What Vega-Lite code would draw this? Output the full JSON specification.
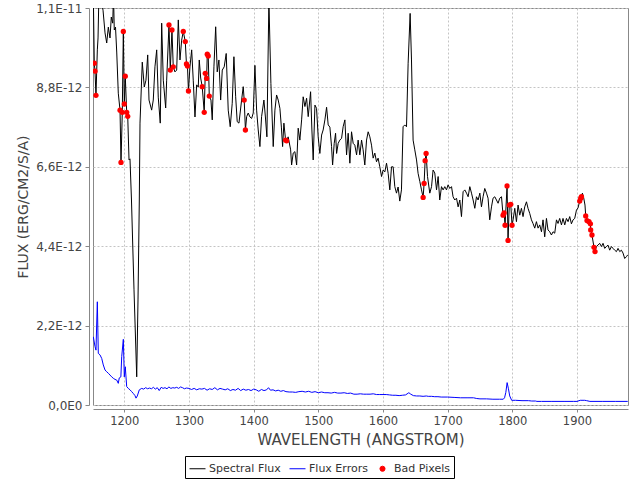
{
  "$schema": "https://vega.github.io/schema/vega-lite/v6.json",
  "width": 535,
  "height": 397,
  "autosize": {"type": "none"},
  "padding": {"left": 93, "top": 8, "right": 12, "bottom": 75},
  "background": "white",
  "config": {
    "view": {"stroke": "#888888", "strokeWidth": 1},
    "font": "DejaVu Sans"
  },
  "datasets": {
    "flux": [
      {"wl":1152.1,"flux":11.36e-12,"bad":0},{"wl":1153.6,"flux":9.47e-12,"bad":1},{"wl":1154.7,"flux":9.25e-12,"bad":1},{"wl":1156.2,"flux":8.58e-12,"bad":1},
      {"wl":1158.3,"flux":9.84e-12,"bad":0},{"wl":1159.4,"flux":10.17e-12,"bad":0},{"wl":1160.9,"flux":11.5e-12,"bad":0},{"wl":1164.0,"flux":11.22e-12,"bad":0},
      {"wl":1167.1,"flux":10.94e-12,"bad":0},{"wl":1170.2,"flux":10.31e-12,"bad":0},{"wl":1172.8,"flux":10.03e-12,"bad":0},{"wl":1175.3,"flux":10.47e-12,"bad":0},
      {"wl":1177.9,"flux":10.17e-12,"bad":0},{"wl":1179.9,"flux":10.75e-12,"bad":0},{"wl":1182.1,"flux":10.58e-12,"bad":0},{"wl":1183.3,"flux":11.36e-12,"bad":0},
      {"wl":1184.5,"flux":10.39e-12,"bad":0},{"wl":1186.4,"flux":10.47e-12,"bad":0},{"wl":1188.3,"flux":9.78e-12,"bad":0},{"wl":1190.7,"flux":8.64e-12,"bad":0},
      {"wl":1193.4,"flux":8.17e-12,"bad":1},{"wl":1194.9,"flux":6.72e-12,"bad":1},{"wl":1196.9,"flux":8.11e-12,"bad":1},{"wl":1198.5,"flux":10.35e-12,"bad":1},
      {"wl":1200.0,"flux":8.34e-12,"bad":1},{"wl":1201.5,"flux":9.11e-12,"bad":1},{"wl":1203.7,"flux":8.11e-12,"bad":1},{"wl":1205.3,"flux":8.0e-12,"bad":1},
      {"wl":1207.3,"flux":6.79e-12,"bad":0},{"wl":1208.8,"flux":6.82e-12,"bad":0},{"wl":1211.1,"flux":5.68e-12,"bad":0},{"wl":1215.0,"flux":3.19e-12,"bad":0},
      {"wl":1219.2,"flux":0.78e-12,"bad":0},{"wl":1221.2,"flux":2.91e-12,"bad":0},{"wl":1223.2,"flux":5.68e-12,"bad":0},{"wl":1224.3,"flux":7.81e-12,"bad":0},
      {"wl":1227.8,"flux":9.50e-12,"bad":0},{"wl":1230.9,"flux":8.81e-12,"bad":0},{"wl":1233.5,"flux":9.0e-12,"bad":0},{"wl":1236.2,"flux":9.70e-12,"bad":0},
      {"wl":1238.2,"flux":8.45e-12,"bad":0},{"wl":1242.3,"flux":8.17e-12,"bad":0},{"wl":1244.8,"flux":8.45e-12,"bad":0},{"wl":1247.4,"flux":9.37e-12,"bad":0},
      {"wl":1250.1,"flux":9.84e-12,"bad":0},{"wl":1252.5,"flux":8.53e-12,"bad":0},{"wl":1255.6,"flux":7.81e-12,"bad":0},{"wl":1257.8,"flux":10.58e-12,"bad":0},
      {"wl":1260.3,"flux":9.0e-12,"bad":0},{"wl":1264.0,"flux":8.23e-12,"bad":0},{"wl":1265.5,"flux":9.0e-12,"bad":0},{"wl":1269.1,"flux":10.53e-12,"bad":1},
      {"wl":1271.1,"flux":9.28e-12,"bad":1},{"wl":1273.7,"flux":10.39e-12,"bad":1},{"wl":1275.7,"flux":9.37e-12,"bad":1},{"wl":1278.3,"flux":9.23e-12,"bad":0},
      {"wl":1281.0,"flux":9.28e-12,"bad":0},{"wl":1283.5,"flux":10.67e-12,"bad":0},{"wl":1286.1,"flux":9.56e-12,"bad":0},{"wl":1288.7,"flux":10.11e-12,"bad":0},
      {"wl":1291.2,"flux":10.35e-12,"bad":1},{"wl":1294.3,"flux":10.07e-12,"bad":1},{"wl":1296.1,"flux":9.45e-12,"bad":1},{"wl":1297.7,"flux":9.39e-12,"bad":1},
      {"wl":1299.2,"flux":8.70e-12,"bad":1},{"wl":1301.5,"flux":9.37e-12,"bad":0},{"wl":1304.2,"flux":9.84e-12,"bad":0},{"wl":1306.6,"flux":9.0e-12,"bad":0},
      {"wl":1309.3,"flux":7.98e-12,"bad":0},{"wl":1311.9,"flux":8.87e-12,"bad":0},{"wl":1314.4,"flux":8.81e-12,"bad":0},{"wl":1315.9,"flux":9.56e-12,"bad":0},
      {"wl":1318.1,"flux":9.06e-12,"bad":0},{"wl":1320.5,"flux":8.82e-12,"bad":1},{"wl":1323.6,"flux":8.11e-12,"bad":1},{"wl":1325.2,"flux":9.19e-12,"bad":1},
      {"wl":1327.3,"flux":9.05e-12,"bad":1},{"wl":1328.3,"flux":9.72e-12,"bad":1},{"wl":1329.8,"flux":9.67e-12,"bad":1},{"wl":1331.4,"flux":8.56e-12,"bad":1},
      {"wl":1334.0,"flux":8.45e-12,"bad":0},{"wl":1336.0,"flux":7.90e-12,"bad":0},{"wl":1338.6,"flux":9.37e-12,"bad":0},{"wl":1341.3,"flux":10.48e-12,"bad":0},
      {"wl":1343.7,"flux":9.23e-12,"bad":0},{"wl":1346.3,"flux":9.56e-12,"bad":0},{"wl":1349.0,"flux":8.45e-12,"bad":0},{"wl":1351.5,"flux":9.28e-12,"bad":0},
      {"wl":1354.5,"flux":9.37e-12,"bad":0},{"wl":1357.6,"flux":9.74e-12,"bad":0},{"wl":1360.7,"flux":8.17e-12,"bad":0},{"wl":1363.8,"flux":7.71e-12,"bad":0},
      {"wl":1366.9,"flux":8.36e-12,"bad":0},{"wl":1369.5,"flux":9.65e-12,"bad":0},{"wl":1372.2,"flux":8.54e-12,"bad":0},{"wl":1374.6,"flux":7.85e-12,"bad":0},
      {"wl":1377.3,"flux":7.81e-12,"bad":0},{"wl":1381.4,"flux":8.45e-12,"bad":0},{"wl":1383.9,"flux":8.82e-12,"bad":0},{"wl":1385.4,"flux":8.45e-12,"bad":1},
      {"wl":1387.3,"flux":7.62e-12,"bad":1},{"wl":1389.2,"flux":7.99e-12,"bad":0},{"wl":1391.6,"flux":8.09e-12,"bad":0},{"wl":1394.3,"flux":7.98e-12,"bad":0},
      {"wl":1396.9,"flux":7.94e-12,"bad":0},{"wl":1399.4,"flux":8.09e-12,"bad":0},{"wl":1402.0,"flux":9.41e-12,"bad":0},{"wl":1404.6,"flux":8.17e-12,"bad":0},
      {"wl":1407.1,"flux":7.62e-12,"bad":0},{"wl":1409.7,"flux":7.16e-12,"bad":0},{"wl":1412.3,"flux":7.99e-12,"bad":0},{"wl":1415.9,"flux":8.45e-12,"bad":0},
      {"wl":1418.2,"flux":7.98e-12,"bad":0},{"wl":1420.5,"flux":7.43e-12,"bad":0},{"wl":1423.6,"flux":11.2e-12,"bad":0},{"wl":1426.7,"flux":8.91e-12,"bad":0},
      {"wl":1430.3,"flux":7.16e-12,"bad":0},{"wl":1432.9,"flux":8.17e-12,"bad":0},{"wl":1435.5,"flux":8.59e-12,"bad":0},{"wl":1438.0,"flux":8.45e-12,"bad":0},
      {"wl":1440.6,"flux":8.22e-12,"bad":0},{"wl":1442.9,"flux":7.70e-12,"bad":0},{"wl":1444.8,"flux":7.16e-12,"bad":0},{"wl":1446.8,"flux":7.81e-12,"bad":0},
      {"wl":1449.4,"flux":7.34e-12,"bad":1},{"wl":1451.0,"flux":7.32e-12,"bad":1},{"wl":1453.4,"flux":7.43e-12,"bad":0},{"wl":1457.2,"flux":7.07e-12,"bad":0},
      {"wl":1458.7,"flux":6.65e-12,"bad":0},{"wl":1461.2,"flux":6.98e-12,"bad":0},{"wl":1463.8,"flux":7.02e-12,"bad":0},{"wl":1466.5,"flux":6.65e-12,"bad":0},
      {"wl":1468.9,"flux":7.67e-12,"bad":0},{"wl":1471.5,"flux":7.34e-12,"bad":0},{"wl":1474.2,"flux":7.90e-12,"bad":0},{"wl":1476.6,"flux":8.54e-12,"bad":0},
      {"wl":1479.3,"flux":8.27e-12,"bad":0},{"wl":1481.9,"flux":8.50e-12,"bad":0},{"wl":1484.4,"flux":7.99e-12,"bad":0},{"wl":1488.1,"flux":8.68e-12,"bad":0},
      {"wl":1490.1,"flux":7.62e-12,"bad":0},{"wl":1492.1,"flux":6.79e-12,"bad":0},{"wl":1494.8,"flux":8.31e-12,"bad":0},{"wl":1497.3,"flux":8.22e-12,"bad":0},
      {"wl":1499.8,"flux":7.43e-12,"bad":0},{"wl":1502.4,"flux":6.97e-12,"bad":0},{"wl":1505.1,"flux":7.48e-12,"bad":0},{"wl":1507.5,"flux":7.62e-12,"bad":0},
      {"wl":1510.2,"flux":7.90e-12,"bad":0},{"wl":1512.8,"flux":8.25e-12,"bad":0},{"wl":1515.3,"flux":7.76e-12,"bad":0},{"wl":1517.9,"flux":7.70e-12,"bad":0},
      {"wl":1520.5,"flux":7.16e-12,"bad":0},{"wl":1522.1,"flux":6.65e-12,"bad":0},{"wl":1524.6,"flux":7.25e-12,"bad":0},{"wl":1526.7,"flux":7.53e-12,"bad":0},
      {"wl":1528.3,"flux":6.97e-12,"bad":0},{"wl":1530.7,"flux":7.25e-12,"bad":0},{"wl":1533.3,"flux":7.34e-12,"bad":0},{"wl":1536.0,"flux":7.39e-12,"bad":0},
      {"wl":1538.4,"flux":7.71e-12,"bad":0},{"wl":1541.1,"flux":7.90e-12,"bad":0},{"wl":1543.7,"flux":6.93e-12,"bad":0},{"wl":1546.2,"flux":7.53e-12,"bad":0},
      {"wl":1548.8,"flux":6.70e-12,"bad":0},{"wl":1551.4,"flux":7.57e-12,"bad":0},{"wl":1553.9,"flux":7.25e-12,"bad":0},{"wl":1556.5,"flux":7.20e-12,"bad":0},
      {"wl":1559.2,"flux":6.93e-12,"bad":0},{"wl":1561.6,"flux":7.34e-12,"bad":0},{"wl":1564.2,"flux":6.93e-12,"bad":0},{"wl":1566.9,"flux":7.34e-12,"bad":0},
      {"wl":1569.3,"flux":7.07e-12,"bad":0},{"wl":1571.9,"flux":6.65e-12,"bad":0},{"wl":1574.6,"flux":7.34e-12,"bad":0},{"wl":1577.1,"flux":7.57e-12,"bad":0},
      {"wl":1579.7,"flux":7.43e-12,"bad":0},{"wl":1582.3,"flux":7.20e-12,"bad":0},{"wl":1584.8,"flux":6.84e-12,"bad":0},{"wl":1587.4,"flux":6.98e-12,"bad":0},
      {"wl":1590.0,"flux":6.74e-12,"bad":0},{"wl":1592.5,"flux":6.84e-12,"bad":0},{"wl":1595.1,"flux":6.60e-12,"bad":0},{"wl":1597.8,"flux":6.33e-12,"bad":0},
      {"wl":1600.3,"flux":6.51e-12,"bad":0},{"wl":1602.9,"flux":6.46e-12,"bad":0},{"wl":1605.5,"flux":6.70e-12,"bad":0},{"wl":1608.0,"flux":6.42e-12,"bad":0},
      {"wl":1610.6,"flux":5.96e-12,"bad":0},{"wl":1613.2,"flux":6.60e-12,"bad":0},{"wl":1615.7,"flux":6.60e-12,"bad":0},{"wl":1618.3,"flux":6.05e-12,"bad":0},
      {"wl":1620.9,"flux":5.87e-12,"bad":0},{"wl":1623.4,"flux":6.04e-12,"bad":0},{"wl":1626.0,"flux":5.65e-12,"bad":0},{"wl":1628.6,"flux":5.96e-12,"bad":0},
      {"wl":1631.1,"flux":7.71e-12,"bad":0},{"wl":1633.7,"flux":7.76e-12,"bad":0},{"wl":1636.4,"flux":7.71e-12,"bad":0},{"wl":1638.9,"flux":9.47e-12,"bad":0},
      {"wl":1642.0,"flux":10.85e-12,"bad":0},{"wl":1644.1,"flux":9.56e-12,"bad":0},{"wl":1646.6,"flux":7.34e-12,"bad":0},{"wl":1649.2,"flux":7.07e-12,"bad":0},
      {"wl":1651.9,"flux":6.79e-12,"bad":0},{"wl":1654.3,"flux":6.42e-12,"bad":0},{"wl":1657.0,"flux":6.19e-12,"bad":0},{"wl":1659.6,"flux":5.96e-12,"bad":0},
      {"wl":1662.1,"flux":5.75e-12,"bad":1},{"wl":1663.6,"flux":6.14e-12,"bad":1},{"wl":1665.2,"flux":6.77e-12,"bad":1},{"wl":1666.7,"flux":6.97e-12,"bad":1},
      {"wl":1668.9,"flux":6.33e-12,"bad":0},{"wl":1672.4,"flux":5.87e-12,"bad":0},{"wl":1675.1,"flux":6.05e-12,"bad":0},{"wl":1677.5,"flux":6.51e-12,"bad":0},
      {"wl":1680.1,"flux":6.43e-12,"bad":0},{"wl":1682.8,"flux":5.96e-12,"bad":0},{"wl":1685.3,"flux":6.33e-12,"bad":0},{"wl":1687.8,"flux":5.68e-12,"bad":0},
      {"wl":1690.5,"flux":6.05e-12,"bad":0},{"wl":1693.0,"flux":5.96e-12,"bad":0},{"wl":1695.6,"flux":6.05e-12,"bad":0},{"wl":1698.2,"flux":5.96e-12,"bad":0},
      {"wl":1700.7,"flux":6.10e-12,"bad":0},{"wl":1703.3,"flux":6.00e-12,"bad":0},{"wl":1706.0,"flux":6.05e-12,"bad":0},{"wl":1708.4,"flux":5.77e-12,"bad":0},
      {"wl":1711.0,"flux":5.68e-12,"bad":0},{"wl":1713.7,"flux":5.73e-12,"bad":0},{"wl":1716.2,"flux":5.49e-12,"bad":0},{"wl":1718.8,"flux":5.68e-12,"bad":0},
      {"wl":1721.4,"flux":5.22e-12,"bad":0},{"wl":1723.9,"flux":5.91e-12,"bad":0},{"wl":1726.6,"flux":5.96e-12,"bad":0},{"wl":1729.2,"flux":5.87e-12,"bad":0},
      {"wl":1731.7,"flux":5.77e-12,"bad":0},{"wl":1734.3,"flux":6.05e-12,"bad":0},{"wl":1736.9,"flux":5.87e-12,"bad":0},{"wl":1739.4,"flux":5.68e-12,"bad":0},
      {"wl":1742.0,"flux":5.45e-12,"bad":0},{"wl":1744.6,"flux":5.77e-12,"bad":0},{"wl":1747.1,"flux":5.68e-12,"bad":0},{"wl":1749.8,"flux":5.87e-12,"bad":0},
      {"wl":1752.3,"flux":5.49e-12,"bad":0},{"wl":1754.8,"flux":5.77e-12,"bad":0},{"wl":1757.4,"flux":6.00e-12,"bad":0},{"wl":1760.1,"flux":5.87e-12,"bad":0},
      {"wl":1762.5,"flux":5.73e-12,"bad":0},{"wl":1765.1,"flux":5.13e-12,"bad":0},{"wl":1767.8,"flux":5.49e-12,"bad":0},{"wl":1770.2,"flux":5.73e-12,"bad":0},
      {"wl":1772.9,"flux":5.77e-12,"bad":0},{"wl":1775.5,"flux":5.68e-12,"bad":0},{"wl":1778.0,"flux":5.59e-12,"bad":0},{"wl":1780.6,"flux":5.73e-12,"bad":0},
      {"wl":1783.3,"flux":5.77e-12,"bad":0},{"wl":1785.7,"flux":5.26e-12,"bad":1},{"wl":1787.3,"flux":5.32e-12,"bad":1},{"wl":1788.8,"flux":4.98e-12,"bad":1},
      {"wl":1791.9,"flux":6.07e-12,"bad":1},{"wl":1793.4,"flux":4.56e-12,"bad":1},{"wl":1795.3,"flux":5.54e-12,"bad":1},{"wl":1797.6,"flux":5.56e-12,"bad":1},
      {"wl":1799.6,"flux":4.98e-12,"bad":1},{"wl":1801.2,"flux":5.13e-12,"bad":0},{"wl":1803.8,"flux":5.45e-12,"bad":0},{"wl":1806.4,"flux":5.08e-12,"bad":0},
      {"wl":1808.9,"flux":5.54e-12,"bad":0},{"wl":1811.5,"flux":5.26e-12,"bad":0},{"wl":1814.1,"flux":5.45e-12,"bad":0},{"wl":1816.6,"flux":5.22e-12,"bad":0},
      {"wl":1819.2,"flux":5.49e-12,"bad":0},{"wl":1821.9,"flux":5.63e-12,"bad":0},{"wl":1824.3,"flux":5.45e-12,"bad":0},{"wl":1826.9,"flux":5.31e-12,"bad":0},
      {"wl":1829.6,"flux":5.13e-12,"bad":0},{"wl":1832.0,"flux":5.03e-12,"bad":0},{"wl":1834.7,"flux":4.90e-12,"bad":0},{"wl":1837.3,"flux":5.08e-12,"bad":0},
      {"wl":1839.8,"flux":4.90e-12,"bad":0},{"wl":1842.4,"flux":4.99e-12,"bad":0},{"wl":1845.1,"flux":4.80e-12,"bad":0},{"wl":1847.5,"flux":5.13e-12,"bad":0},
      {"wl":1850.1,"flux":4.66e-12,"bad":0},{"wl":1852.8,"flux":5.17e-12,"bad":0},{"wl":1855.2,"flux":4.85e-12,"bad":0},{"wl":1857.9,"flux":4.80e-12,"bad":0},
      {"wl":1860.5,"flux":4.71e-12,"bad":0},{"wl":1863.0,"flux":4.80e-12,"bad":0},{"wl":1865.6,"flux":4.76e-12,"bad":0},{"wl":1868.3,"flux":5.13e-12,"bad":0},
      {"wl":1870.7,"flux":5.03e-12,"bad":0},{"wl":1873.3,"flux":5.17e-12,"bad":0},{"wl":1876.0,"flux":4.99e-12,"bad":0},{"wl":1878.4,"flux":5.17e-12,"bad":0},
      {"wl":1881.1,"flux":4.99e-12,"bad":0},{"wl":1883.7,"flux":5.17e-12,"bad":0},{"wl":1886.2,"flux":5.08e-12,"bad":0},{"wl":1888.8,"flux":5.22e-12,"bad":0},
      {"wl":1891.4,"flux":5.02e-12,"bad":0},{"wl":1893.9,"flux":5.13e-12,"bad":0},{"wl":1896.5,"flux":5.17e-12,"bad":0},{"wl":1899.2,"flux":5.40e-12,"bad":0},
      {"wl":1901.6,"flux":5.46e-12,"bad":0},{"wl":1904.2,"flux":5.65e-12,"bad":1},{"wl":1905.8,"flux":5.73e-12,"bad":1},{"wl":1906.9,"flux":5.77e-12,"bad":1},
      {"wl":1908.4,"flux":5.87e-12,"bad":0},{"wl":1910.4,"flux":5.74e-12,"bad":0},{"wl":1912.4,"flux":5.54e-12,"bad":0},{"wl":1913.5,"flux":5.24e-12,"bad":1},
      {"wl":1915.5,"flux":5.11e-12,"bad":1},{"wl":1918.6,"flux":5.08e-12,"bad":1},{"wl":1920.8,"flux":5.02e-12,"bad":1},{"wl":1921.2,"flux":4.85e-12,"bad":1},
      {"wl":1923.2,"flux":4.71e-12,"bad":1},{"wl":1926.3,"flux":4.37e-12,"bad":1},{"wl":1927.9,"flux":4.25e-12,"bad":1},{"wl":1930.0,"flux":4.39e-12,"bad":0},
      {"wl":1932.5,"flux":4.43e-12,"bad":0},{"wl":1935.1,"flux":4.48e-12,"bad":0},{"wl":1937.8,"flux":4.39e-12,"bad":0},{"wl":1940.3,"flux":4.48e-12,"bad":0},
      {"wl":1942.9,"flux":4.34e-12,"bad":0},{"wl":1945.5,"flux":4.39e-12,"bad":0},{"wl":1948.0,"flux":4.43e-12,"bad":0},{"wl":1950.6,"flux":4.29e-12,"bad":0},
      {"wl":1953.3,"flux":4.39e-12,"bad":0},{"wl":1955.7,"flux":4.34e-12,"bad":0},{"wl":1958.3,"flux":4.29e-12,"bad":0},{"wl":1961.0,"flux":4.25e-12,"bad":0},
      {"wl":1963.5,"flux":4.34e-12,"bad":0},{"wl":1966.1,"flux":4.25e-12,"bad":0},{"wl":1968.7,"flux":4.29e-12,"bad":0},{"wl":1971.2,"flux":4.21e-12,"bad":0},
      {"wl":1973.8,"flux":4.06e-12,"bad":0},{"wl":1976.5,"flux":4.11e-12,"bad":0},{"wl":1978.5,"flux":4.16e-12,"bad":0}
    ],
    "err": [
      {"wl":1152.1,"err":1.89e-12},{"wl":1154.7,"err":1.62e-12},{"wl":1156.2,"err":1.52e-12},{"wl":1158.3,"err":2.86e-12},{"wl":1159.8,"err":1.43e-12},
      {"wl":1162.4,"err":1.39e-12},{"wl":1165.1,"err":1.29e-12},{"wl":1167.5,"err":1.11e-12},{"wl":1170.2,"err":0.97e-12},{"wl":1172.8,"err":0.92e-12},
      {"wl":1175.3,"err":0.88e-12},{"wl":1177.9,"err":0.83e-12},{"wl":1180.5,"err":0.78e-12},{"wl":1183.0,"err":0.74e-12},{"wl":1185.6,"err":0.71e-12},
      {"wl":1188.3,"err":0.69e-12},{"wl":1190.7,"err":0.60e-12},{"wl":1192.2,"err":0.75e-12},{"wl":1194.7,"err":0.78e-12},{"wl":1196.0,"err":1.34e-12},
      {"wl":1198.5,"err":1.82e-12},{"wl":1200.0,"err":0.78e-12},{"wl":1201.5,"err":1.06e-12},{"wl":1203.7,"err":0.51e-12},{"wl":1206.2,"err":0.46e-12},
      {"wl":1208.8,"err":0.42e-12},{"wl":1211.4,"err":0.37e-12},{"wl":1213.9,"err":0.32e-12},{"wl":1216.5,"err":0.26e-12},{"wl":1218.1,"err":0.19e-12},
      {"wl":1220.1,"err":0.25e-12},{"wl":1223.2,"err":0.42e-12},{"wl":1226.9,"err":0.46e-12},{"wl":1230,"err":0.44e-12},{"wl":1233,"err":0.48e-12},
      {"wl":1236,"err":0.45e-12},{"wl":1239,"err":0.47e-12},{"wl":1242,"err":0.45e-12},{"wl":1245,"err":0.49e-12},{"wl":1248,"err":0.44e-12},
      {"wl":1251,"err":0.48e-12},{"wl":1254,"err":0.40e-12},{"wl":1257,"err":0.49e-12},{"wl":1260,"err":0.46e-12},{"wl":1263,"err":0.48e-12},
      {"wl":1266,"err":0.45e-12},{"wl":1269,"err":0.50e-12},{"wl":1272,"err":0.46e-12},{"wl":1275,"err":0.48e-12},{"wl":1278,"err":0.47e-12},
      {"wl":1281,"err":0.49e-12},{"wl":1284,"err":0.46e-12},{"wl":1287,"err":0.50e-12},{"wl":1290,"err":0.48e-12},{"wl":1293,"err":0.45e-12},
      {"wl":1296,"err":0.47e-12},{"wl":1300,"err":0.46e-12},{"wl":1304,"err":0.43e-12},{"wl":1308,"err":0.46e-12},{"wl":1312,"err":0.42e-12},
      {"wl":1316,"err":0.45e-12},{"wl":1320,"err":0.44e-12},{"wl":1324,"err":0.46e-12},{"wl":1328,"err":0.41e-12},{"wl":1332,"err":0.45e-12},
      {"wl":1336,"err":0.43e-12},{"wl":1340,"err":0.48e-12},{"wl":1344,"err":0.42e-12},{"wl":1348,"err":0.46e-12},{"wl":1352,"err":0.44e-12},
      {"wl":1356,"err":0.42e-12},{"wl":1360,"err":0.45e-12},{"wl":1364,"err":0.40e-12},{"wl":1368,"err":0.43e-12},{"wl":1372,"err":0.41e-12},
      {"wl":1376,"err":0.46e-12},{"wl":1380,"err":0.40e-12},{"wl":1384,"err":0.44e-12},{"wl":1388,"err":0.41e-12},{"wl":1392,"err":0.43e-12},
      {"wl":1396,"err":0.40e-12},{"wl":1400,"err":0.44e-12},{"wl":1404,"err":0.42e-12},{"wl":1408,"err":0.38e-12},{"wl":1412,"err":0.43e-12},
      {"wl":1416,"err":0.40e-12},{"wl":1420,"err":0.42e-12},{"wl":1423,"err":0.48e-12},{"wl":1426,"err":0.41e-12},{"wl":1430,"err":0.42e-12},
      {"wl":1434,"err":0.39e-12},{"wl":1438,"err":0.41e-12},{"wl":1442,"err":0.38e-12},{"wl":1446,"err":0.40e-12},{"wl":1450,"err":0.37e-12},
      {"wl":1455,"err":0.36e-12},{"wl":1460,"err":0.36e-12},{"wl":1465,"err":0.35e-12},{"wl":1470,"err":0.37e-12},{"wl":1475,"err":0.38e-12},
      {"wl":1480,"err":0.36e-12},{"wl":1485,"err":0.38e-12},{"wl":1490,"err":0.35e-12},{"wl":1495,"err":0.37e-12},{"wl":1500,"err":0.34e-12},
      {"wl":1505,"err":0.36e-12},{"wl":1510,"err":0.34e-12},{"wl":1515,"err":0.34e-12},{"wl":1520,"err":0.33e-12},{"wl":1525,"err":0.35e-12},
      {"wl":1530,"err":0.33e-12},{"wl":1535,"err":0.33e-12},{"wl":1540,"err":0.34e-12},{"wl":1545,"err":0.32e-12},{"wl":1550,"err":0.33e-12},
      {"wl":1555,"err":0.30e-12},{"wl":1560,"err":0.30e-12},{"wl":1565,"err":0.31e-12},{"wl":1570,"err":0.30e-12},{"wl":1575,"err":0.30e-12},
      {"wl":1580,"err":0.30e-12},{"wl":1585,"err":0.31e-12},{"wl":1590,"err":0.29e-12},{"wl":1595,"err":0.29e-12},{"wl":1600,"err":0.29e-12},
      {"wl":1605,"err":0.29e-12},{"wl":1610,"err":0.28e-12},{"wl":1615,"err":0.27e-12},{"wl":1620,"err":0.27e-12},{"wl":1625,"err":0.26e-12},
      {"wl":1630,"err":0.27e-12},{"wl":1635,"err":0.28e-12},{"wl":1640,"err":0.34e-12},{"wl":1643,"err":0.30e-12},{"wl":1647,"err":0.26e-12},
      {"wl":1652,"err":0.25e-12},{"wl":1657,"err":0.25e-12},{"wl":1662,"err":0.24e-12},{"wl":1667,"err":0.25e-12},{"wl":1670,"err":0.24e-12},
      {"wl":1675,"err":0.24e-12},{"wl":1680,"err":0.23e-12},{"wl":1685,"err":0.23e-12},{"wl":1690,"err":0.22e-12},{"wl":1700,"err":0.22e-12},
      {"wl":1710,"err":0.21e-12},{"wl":1720,"err":0.20e-12},{"wl":1730,"err":0.20e-12},{"wl":1740,"err":0.20e-12},{"wl":1745,"err":0.18e-12},
      {"wl":1750,"err":0.17e-12},{"wl":1760,"err":0.17e-12},{"wl":1770,"err":0.16e-12},{"wl":1780,"err":0.16e-12},{"wl":1786,"err":0.16e-12},
      {"wl":1788,"err":0.20e-12},{"wl":1790,"err":0.35e-12},{"wl":1792,"err":0.62e-12},{"wl":1794,"err":0.45e-12},{"wl":1796,"err":0.25e-12},
      {"wl":1799,"err":0.13e-12},{"wl":1805,"err":0.13e-12},{"wl":1815,"err":0.12e-12},{"wl":1825,"err":0.12e-12},{"wl":1830,"err":0.11e-12},
      {"wl":1836,"err":0.11e-12},{"wl":1838,"err":0.10e-12},{"wl":1845,"err":0.10e-12},{"wl":1860,"err":0.10e-12},{"wl":1880,"err":0.10e-12},
      {"wl":1895,"err":0.10e-12},{"wl":1900,"err":0.10e-12},{"wl":1905,"err":0.13e-12},{"wl":1912,"err":0.13e-12},{"wl":1915,"err":0.12e-12},
      {"wl":1920,"err":0.10e-12},{"wl":1940,"err":0.10e-12},{"wl":1960,"err":0.10e-12},{"wl":1978.5,"err":0.10e-12}
    ]
  },
  "encoding": {
    "x": {
      "field": "wl", "type": "quantitative",
      "scale": {"domain": [1151.6, 1978.9], "nice": false, "zero": false},
      "axis": {
        "title": "WAVELENGTH (ANGSTROM)",
        "values": [1200, 1300, 1400, 1500, 1600, 1700, 1800, 1900],
        "format": "d",
        "offset": 4,
        "tickSize": 3,
        "labelPadding": 3,
        "labelFont": "DejaVu Sans",
        "labelFontSize": 11.5,
        "labelColor": "#444444",
        "titleFont": "DejaVu Sans",
        "titleFontSize": 15,
        "titleFontWeight": "normal",
        "titleColor": "#444444",
        "titlePadding": 6,
        "domainColor": "#888888",
        "tickColor": "#888888",
        "gridColor": "#c4c4c4",
        "gridDash": [2, 2]
      }
    },
    "y": {
      "type": "quantitative",
      "scale": {"domain": [0, 1.1e-11], "nice": false, "zero": true},
      "axis": {
        "title": "FLUX (ERG/CM2/S/A)",
        "values": [0, 2.2e-12, 4.4e-12, 6.6e-12, 8.8e-12, 1.1e-11],
        "labelExpr": "datum.value == 0 ? '0,0E0' : replace(upper(format(datum.value, '.1e')), '.', ',')",
        "offset": 4,
        "tickSize": 4,
        "labelPadding": 3,
        "labelFont": "DejaVu Sans",
        "labelFontSize": 12,
        "labelColor": "#444444",
        "titleFont": "DejaVu Sans",
        "titleFontSize": 14,
        "titleFontWeight": "normal",
        "titleColor": "#444444",
        "titlePadding": 5,
        "domainColor": "#888888",
        "tickColor": "#888888",
        "gridColor": "#c4c4c4",
        "gridDash": [2, 2]
      }
    },
    "color": {
      "type": "nominal",
      "scale": {"domain": ["Spectral Flux", "Flux Errors", "Bad Pixels"], "range": ["#000000", "#0000ff", "#ff0000"]},
      "legend": {
        "orient": "none",
        "legendX": 92,
        "legendY": 448,
        "direction": "horizontal",
        "title": null,
        "strokeColor": "#000000",
        "fillColor": "#ffffff",
        "padding": 4,
        "symbolSize": 196,
        "symbolStrokeWidth": 1,
        "labelOffset": 3,
        "columnPadding": 6,
        "labelFont": "DejaVu Sans",
        "labelFontSize": 11,
        "labelColor": "#333333",
        "encode": {
          "symbols": {
            "update": {
              "shape": {"signal": "datum.value === 'Bad Pixels' ? 'circle' : 'stroke'"},
              "size": {"signal": "datum.value === 'Bad Pixels' ? 26 : 256"},
              "fill": {"signal": "datum.value === 'Bad Pixels' ? '#ff0000' : 'transparent'"},
              "stroke": {"signal": "datum.value === 'Spectral Flux' ? '#000000' : datum.value === 'Flux Errors' ? '#0000ff' : 'transparent'"},
              "strokeWidth": {"value": 1}
            }
          }
        }
      }
    }
  },
  "layer": [
    {
      "data": {"name": "flux"},
      "mark": {"type": "line", "strokeWidth": 1, "clip": true},
      "encoding": {
        "y": {"field": "flux"},
        "color": {"datum": "Spectral Flux"}
      }
    },
    {
      "data": {"name": "err"},
      "mark": {"type": "line", "strokeWidth": 1, "clip": true},
      "encoding": {
        "y": {"field": "err"},
        "color": {"datum": "Flux Errors"}
      }
    },
    {
      "data": {"name": "flux"},
      "transform": [{"filter": "datum.bad == 1"}],
      "mark": {"type": "point", "filled": true, "size": 28, "opacity": 1, "clip": true},
      "encoding": {
        "y": {"field": "flux"},
        "color": {"datum": "Bad Pixels"}
      }
    }
  ]
}
